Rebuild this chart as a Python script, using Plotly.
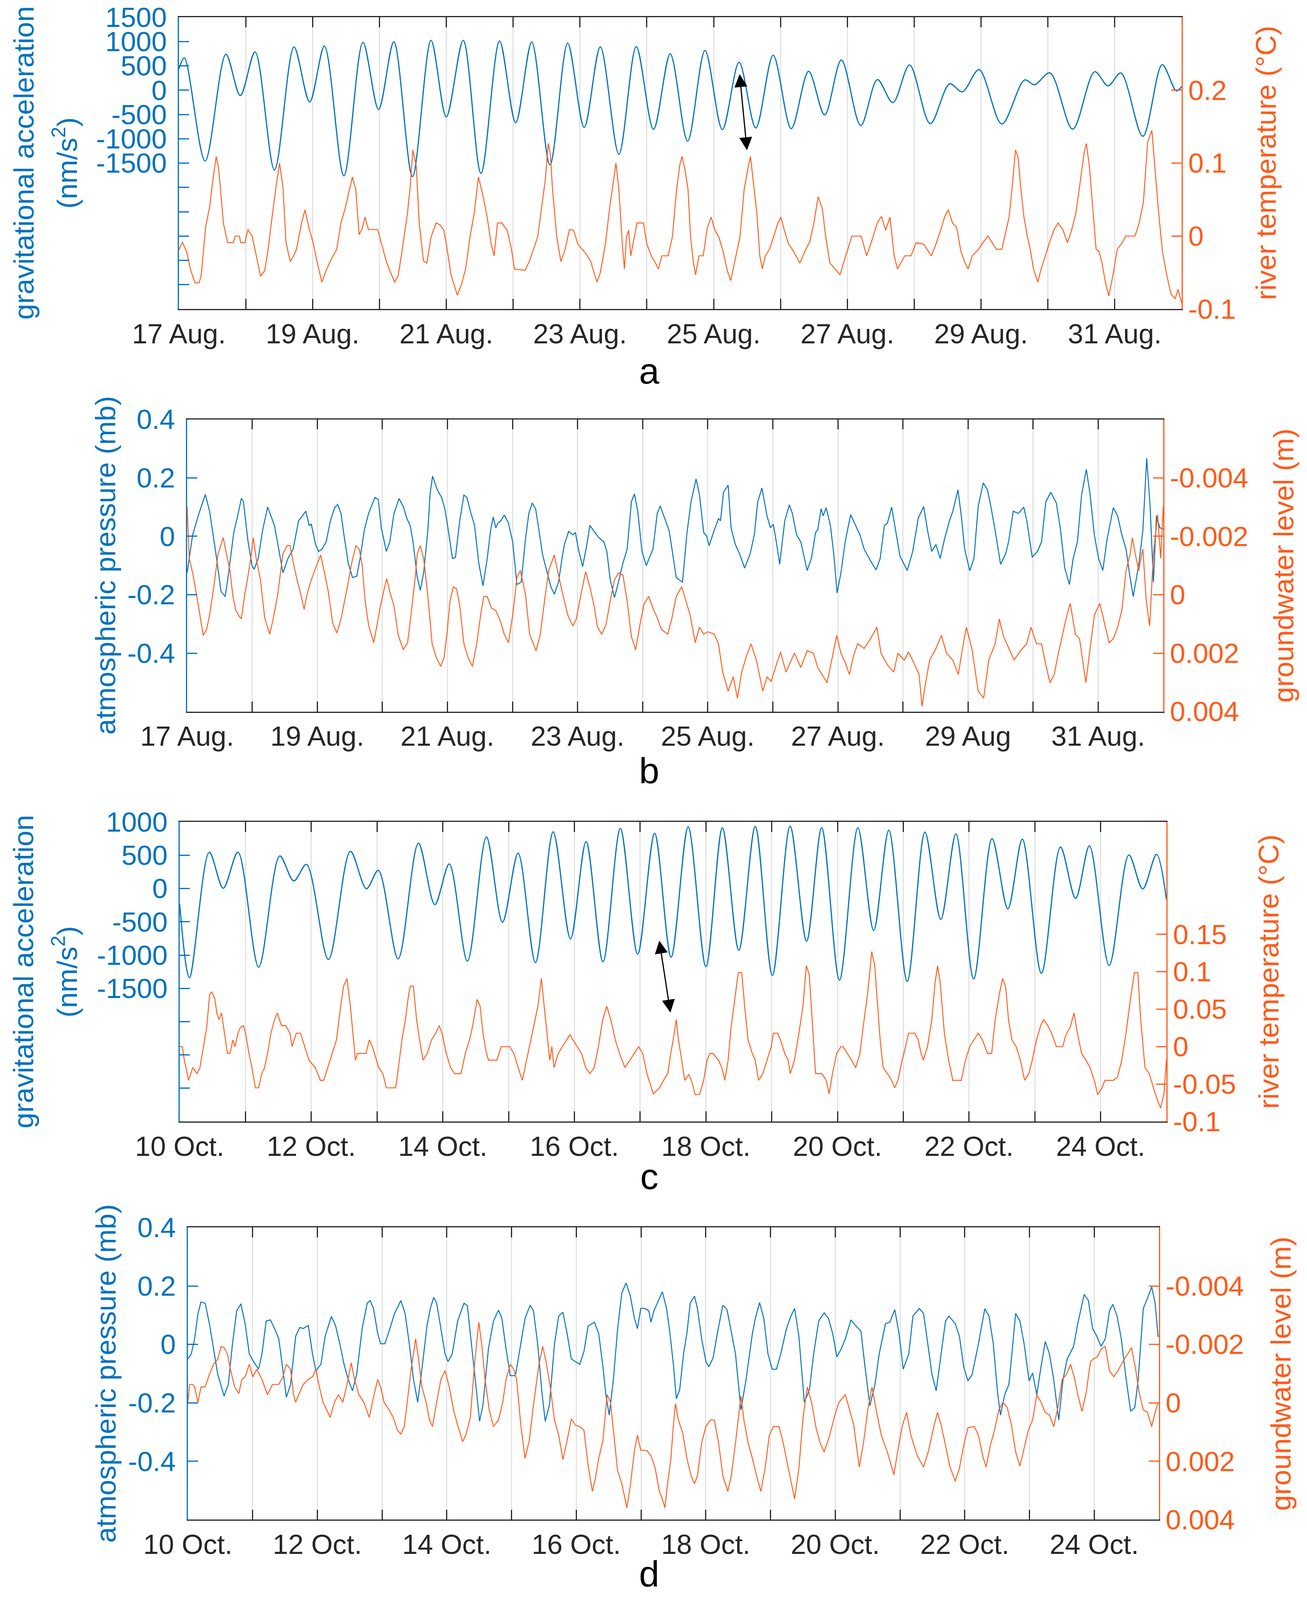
import plotly.graph_objects as go

# ---- data (day offset from start of window, value) ----
# panel a: 17 Aug - 1 Sep
A_GRAV = [(0.000, 437), (0.082, 665), (0.392, -1456), (0.703, 738), (0.918, -112), (1.139, 786),
          (1.430, -1641), (1.722, 888), (1.956, -243), (2.177, 908), (2.468, -1762), (2.753, 985),
          (2.987, -398), (3.215, 995), (3.494, -1777), (3.772, 1024), (4.000, -549), (4.253, 1024),
          (4.519, -1709), (4.797, 1010), (5.038, -670), (5.278, 990), (5.551, -1534), (5.816, 966),
          (6.063, -767), (6.304, 893), (6.582, -1316), (6.842, 898), (7.10, -806), (7.35, 748),
          (7.61, -1049), (7.87, 816), (8.13, -811), (8.38, 573), (8.63, -777), (8.89, 718),
          (9.16, -791), (9.42, 388), (9.66, -510), (9.91, 621), (10.20, -728), (10.45, 218),
          (10.68, -257), (10.93, 519), (11.24, -689), (11.53, 131), (11.72, -34), (11.97, 422),
          (12.31, -694), (12.65, 209), (12.80, 112), (13.03, 354), (13.37, -801), (13.70, 379),
          (13.90, 87), (14.09, 354), (14.42, -947), (14.71, 524), (14.92, -15), (15.0, 73)]

A_TEMP = [(0.000, -0.019), (0.051, -0.008), (0.114, -0.021), (0.177, -0.047), (0.241, -0.064),
          (0.304, -0.064), (0.335, -0.053), (0.399, 0.012), (0.462, 0.041), (0.494, 0.067),
          (0.557, 0.109), (0.589, 0.096), (0.620, 0.067), (0.665, 0.018), (0.728, -0.009),
          (0.810, -0.009), (0.842, 0.000), (0.905, 0.000), (0.924, -0.009), (0.987, -0.009),
          (1.032, 0.009), (1.095, 0.000), (1.158, -0.027), (1.222, -0.055), (1.285, -0.047),
          (1.335, -0.018), (1.392, 0.025), (1.456, 0.070), (1.506, 0.100), (1.557, 0.067),
          (1.601, -0.008), (1.665, -0.035), (1.715, -0.027), (1.759, -0.018), (1.835, 0.018),
          (1.886, 0.036), (1.949, 0.010), (2.013, -0.011), (2.063, -0.034), (2.139, -0.063),
          (2.203, -0.047), (2.266, -0.034), (2.361, -0.018), (2.424, 0.018), (2.487, 0.038),
          (2.551, 0.064), (2.595, 0.081), (2.646, 0.064), (2.696, 0.002), (2.741, 0.010),
          (2.785, 0.026), (2.835, 0.009), (2.975, 0.009), (3.025, -0.009), (3.101, -0.034),
          (3.152, -0.047), (3.228, -0.063), (3.278, -0.055), (3.342, -0.018), (3.418, 0.031),
          (3.456, 0.064), (3.500, 0.118), (3.551, 0.096), (3.595, 0.018), (3.658, -0.034),
          (3.709, -0.037), (3.772, -0.001), (3.848, 0.018), (3.911, 0.015), (3.962, 0.008),
          (4.006, -0.014), (4.070, -0.053), (4.165, -0.081), (4.228, -0.066), (4.291, -0.044),
          (4.354, -0.001), (4.418, 0.031), (4.481, 0.081), (4.544, 0.057), (4.608, 0.028),
          (4.671, -0.011), (4.715, -0.027), (4.766, 0.018), (4.829, 0.018), (4.911, 0.008),
          (4.975, -0.018), (5.019, -0.045), (5.177, -0.047), (5.241, -0.035), (5.367, -0.001),
          (5.430, 0.041), (5.481, 0.077), (5.525, 0.127), (5.557, 0.112), (5.589, 0.064),
          (5.652, -0.001), (5.715, -0.035), (5.778, -0.018), (5.842, 0.009), (5.905, 0.008),
          (5.968, -0.011), (6.063, -0.021), (6.158, -0.034), (6.253, -0.063), (6.304, -0.050),
          (6.380, -0.011), (6.443, 0.038), (6.506, 0.080), (6.538, 0.100), (6.582, 0.064),
          (6.633, -0.011), (6.665, -0.045), (6.696, -0.001), (6.728, 0.008), (6.759, -0.027),
          (6.854, 0.018), (6.949, 0.018), (7.000, -0.011), (7.066, -0.027), (7.129, -0.037),
          (7.173, -0.045), (7.224, -0.027), (7.319, -0.027), (7.382, -0.001), (7.445, 0.064),
          (7.496, 0.099), (7.527, 0.109), (7.571, 0.091), (7.616, 0.064), (7.654, -0.001),
          (7.698, -0.037), (7.729, -0.053), (7.780, -0.027), (7.843, -0.027), (7.906, 0.012),
          (7.963, 0.026), (8.014, 0.009), (8.077, -0.001), (8.140, -0.021), (8.203, -0.047),
          (8.254, -0.061), (8.311, -0.037), (8.393, -0.001), (8.456, 0.064), (8.519, 0.096),
          (8.551, 0.109), (8.595, 0.073), (8.646, 0.031), (8.690, -0.027), (8.728, -0.045),
          (8.772, -0.027), (8.835, -0.018), (8.899, 0.000), (8.962, 0.018), (9.006, 0.026),
          (9.057, 0.008), (9.120, -0.011), (9.196, -0.021), (9.290, -0.037), (9.373, -0.019),
          (9.436, -0.008), (9.499, 0.018), (9.562, 0.054), (9.625, 0.038), (9.676, -0.001),
          (9.739, -0.037), (9.815, -0.045), (9.891, -0.053), (9.941, -0.037), (10.004, -0.018),
          (10.068, 0.000), (10.207, 0.000), (10.289, -0.027), (10.384, -0.001), (10.447, 0.018),
          (10.510, 0.027), (10.573, 0.008), (10.637, 0.026), (10.700, -0.027), (10.750, -0.045),
          (10.858, -0.027), (10.953, -0.027), (11.029, -0.009), (11.142, -0.011), (11.256, -0.027),
          (11.332, -0.009), (11.395, 0.008), (11.458, 0.027), (11.509, 0.036), (11.572, 0.018),
          (11.635, 0.012), (11.698, -0.021), (11.762, -0.037), (11.806, -0.045), (11.869, -0.027),
          (11.964, -0.018), (12.027, -0.009), (12.103, 0.000), (12.166, -0.009), (12.229, -0.018),
          (12.311, -0.018), (12.375, 0.008), (12.419, 0.026), (12.469, 0.070), (12.514, 0.118),
          (12.552, 0.109), (12.596, 0.064), (12.640, 0.027), (12.691, 0.000), (12.735, -0.018),
          (12.785, -0.045), (12.849, -0.063), (12.899, -0.045), (12.962, -0.027), (13.026, -0.008),
          (13.089, 0.008), (13.152, 0.018), (13.228, 0.008), (13.291, -0.009), (13.354, 0.008),
          (13.417, 0.031), (13.481, 0.073), (13.544, 0.116), (13.575, 0.127), (13.620, 0.096),
          (13.671, 0.038), (13.721, -0.018), (13.765, -0.021), (13.809, -0.037), (13.860, -0.063),
          (13.910, -0.082), (13.974, -0.053), (14.037, -0.018), (14.113, -0.009), (14.163, 0.000),
          (14.302, 0.000), (14.366, 0.018), (14.429, 0.047), (14.492, 0.129), (14.555, 0.145),
          (14.606, 0.090), (14.650, 0.038), (14.713, -0.021), (14.777, -0.053), (14.840, -0.079),
          (14.903, -0.086), (14.947, -0.073), (15.0, -0.092)]

# panel b: 17 Aug - 1 Sep
B_PRES = [(0.000, -0.125), (0.085, 0.005), (0.182, 0.078), (0.280, 0.143), (0.345, 0.086),
          (0.443, -0.060), (0.521, -0.189), (0.586, -0.206), (0.638, -0.125), (0.717, 0.013),
          (0.769, 0.062), (0.834, 0.130), (0.866, 0.118), (0.932, -0.011), (0.997, -0.100),
          (1.029, -0.113), (1.094, -0.076), (1.160, 0.021), (1.238, 0.100), (1.342, 0.037),
          (1.388, -0.019), (1.472, -0.125), (1.550, -0.076), (1.629, -0.044), (1.713, 0.053),
          (1.759, 0.066), (1.824, 0.086), (1.876, 0.037), (1.909, 0.041), (1.974, -0.028),
          (2.020, -0.052), (2.072, -0.044), (2.137, -0.019), (2.202, 0.053), (2.267, 0.098),
          (2.313, 0.109), (2.365, 0.078), (2.410, 0.005), (2.476, -0.092), (2.541, -0.141),
          (2.606, -0.137), (2.658, -0.076), (2.723, 0.021), (2.788, 0.078), (2.886, 0.133),
          (2.938, 0.126), (2.984, 0.029), (3.062, -0.052), (3.114, -0.019), (3.179, 0.078),
          (3.257, 0.129), (3.322, 0.102), (3.375, 0.062), (3.427, 0.037), (3.472, -0.019),
          (3.537, -0.141), (3.583, -0.185), (3.635, -0.125), (3.700, 0.021), (3.733, 0.143),
          (3.772, 0.206), (3.844, 0.159), (3.909, 0.134), (3.961, 0.094), (4.013, 0.021),
          (4.078, -0.076), (4.124, -0.072), (4.189, 0.053), (4.254, 0.141), (4.300, 0.133),
          (4.352, 0.086), (4.417, 0.037), (4.482, -0.092), (4.547, -0.169), (4.612, -0.076),
          (4.664, 0.021), (4.704, 0.066), (4.743, 0.029), (4.775, 0.045), (4.821, 0.053),
          (4.873, 0.073), (4.938, 0.045), (5.003, -0.019), (5.068, -0.165), (5.134, -0.157),
          (5.199, -0.011), (5.251, 0.078), (5.303, 0.114), (5.355, 0.094), (5.407, 0.021),
          (5.459, -0.060), (5.524, -0.117), (5.590, -0.173), (5.642, -0.198), (5.707, -0.157),
          (5.772, -0.060), (5.798, -0.028), (5.863, 0.017), (5.928, 0.005), (5.967, 0.013),
          (6.013, -0.044), (6.078, -0.104), (6.143, -0.028), (6.189, 0.037), (6.254, 0.017),
          (6.319, -0.003), (6.404, -0.019), (6.450, -0.052), (6.502, -0.149), (6.567, -0.210),
          (6.619, -0.165), (6.697, -0.092), (6.762, -0.044), (6.827, 0.118), (6.873, 0.145),
          (6.925, 0.086), (6.990, -0.052), (7.055, -0.100), (7.159, -0.044), (7.224, 0.078),
          (7.269, 0.104), (7.354, 0.053), (7.405, 0.021), (7.451, -0.044), (7.516, -0.141),
          (7.561, -0.149), (7.613, -0.157), (7.678, 0.005), (7.743, 0.118), (7.821, 0.196),
          (7.873, 0.143), (7.938, 0.013), (7.983, 0.001), (8.022, -0.032), (8.100, 0.021),
          (8.165, 0.060), (8.197, 0.053), (8.243, 0.151), (8.314, 0.175), (8.359, 0.029),
          (8.424, -0.028), (8.489, -0.060), (8.567, -0.109), (8.652, -0.060), (8.716, 0.005),
          (8.768, 0.118), (8.833, 0.165), (8.911, 0.070), (8.963, 0.029), (9.008, 0.041),
          (9.054, -0.019), (9.106, -0.096), (9.184, 0.053), (9.255, 0.108), (9.301, 0.078),
          (9.365, 0.005), (9.430, -0.019), (9.528, -0.117), (9.593, -0.076), (9.657, 0.013),
          (9.690, 0.021), (9.742, 0.094), (9.774, 0.070), (9.820, 0.098), (9.885, 0.037),
          (9.937, -0.060), (9.988, -0.194), (10.047, -0.125), (10.112, -0.019), (10.196, 0.074),
          (10.274, 0.037), (10.339, 0.005), (10.404, -0.044), (10.501, -0.084), (10.586, -0.115),
          (10.650, -0.076), (10.715, 0.037), (10.761, 0.045), (10.826, 0.100), (10.891, 0.013),
          (10.955, -0.068), (11.066, -0.117), (11.150, -0.052), (11.235, 0.062), (11.319, 0.102),
          (11.377, 0.021), (11.442, -0.052), (11.507, -0.028), (11.572, -0.076), (11.637, -0.011),
          (11.715, 0.053), (11.767, 0.086), (11.845, 0.159), (11.897, 0.070), (11.948, -0.044),
          (12.027, -0.118), (12.091, -0.076), (12.156, 0.102), (12.234, 0.183), (12.299, 0.159),
          (12.351, 0.102), (12.416, 0.021), (12.500, -0.096), (12.578, -0.060), (12.623, -0.019),
          (12.695, 0.086), (12.773, 0.078), (12.857, 0.100), (12.903, 0.053), (12.987, -0.072),
          (13.065, -0.052), (13.130, -0.019), (13.195, 0.118), (13.272, 0.151), (13.357, 0.114),
          (13.422, 0.021), (13.487, -0.109), (13.558, -0.165), (13.616, -0.076), (13.681, -0.019),
          (13.746, 0.143), (13.818, 0.229), (13.876, 0.143), (13.941, 0.005), (14.006, -0.076),
          (14.071, -0.117), (14.136, -0.011), (14.233, 0.098), (14.298, 0.070), (14.363, 0.005),
          (14.428, -0.044), (14.479, -0.125), (14.538, -0.206), (14.590, -0.141), (14.636, -0.076),
          (14.687, 0.021), (14.746, 0.267), (14.798, 0.102), (14.849, -0.157), (14.895, 0.070),
          (14.947, 0.029), (15.0, 0.025)]

B_GWL = [(0.000, -0.00302), (0.033, -0.00124), (0.085, -0.00075), (0.150, 0.00006), (0.215, 0.00095),
         (0.248, 0.00139), (0.300, 0.00119), (0.345, 0.00070), (0.410, -0.00027), (0.476, -0.00140),
         (0.554, -0.00195), (0.606, -0.00140), (0.658, -0.00083), (0.704, 0.00006), (0.749, 0.00054),
         (0.801, 0.00074), (0.834, 0.00083), (0.886, -0.00002), (0.932, -0.00059), (0.977, -0.00124),
         (1.016, -0.00195), (1.062, -0.00124), (1.127, -0.00051), (1.192, 0.00079), (1.270, 0.00135),
         (1.322, 0.00083), (1.388, 0.00006), (1.472, -0.00140), (1.537, -0.00168), (1.583, -0.00168),
         (1.629, -0.00112), (1.681, -0.00059), (1.746, -0.00002), (1.798, 0.00050), (1.844, -0.00002),
         (1.896, -0.00043), (1.974, -0.00091), (2.052, -0.00136), (2.104, -0.00083), (2.169, -0.00011),
         (2.235, 0.00095), (2.300, 0.00131), (2.365, 0.00083), (2.463, -0.00027), (2.528, -0.00108),
         (2.593, -0.00168), (2.645, -0.00156), (2.691, -0.00100), (2.736, 0.00022), (2.788, 0.00103),
         (2.866, 0.00164), (2.919, 0.00103), (2.971, 0.00038), (3.036, -0.00027), (3.068, -0.00055),
         (3.114, -0.00011), (3.179, 0.00038), (3.244, 0.00139), (3.322, 0.00188), (3.388, 0.00164),
         (3.440, 0.00070), (3.505, -0.00059), (3.537, -0.00140), (3.583, -0.00168), (3.635, -0.00124),
         (3.700, 0.00006), (3.765, 0.00168), (3.831, 0.00216), (3.896, 0.00245), (3.948, 0.00216),
         (3.993, 0.00135), (4.039, 0.00022), (4.091, -0.00027), (4.143, -0.00019), (4.189, 0.00038),
         (4.254, 0.00168), (4.319, 0.00216), (4.384, 0.00245), (4.450, 0.00168), (4.515, 0.00062),
         (4.560, 0.00006), (4.612, 0.00006), (4.678, 0.00046), (4.743, 0.00054), (4.808, 0.00087),
         (4.873, 0.00135), (4.938, 0.00164), (5.003, 0.00070), (5.068, -0.00059), (5.121, -0.00083),
         (5.199, -0.00002), (5.264, 0.00135), (5.362, 0.00192), (5.427, 0.00135), (5.492, 0.00022),
         (5.557, -0.00083), (5.642, -0.00136), (5.707, -0.00067), (5.772, -0.00002), (5.850, 0.00070),
         (5.928, 0.00107), (5.980, 0.00083), (6.046, 0.00006), (6.124, -0.00079), (6.189, -0.00027),
         (6.254, 0.00038), (6.306, 0.00111), (6.371, 0.00135), (6.436, 0.00103), (6.502, 0.00022),
         (6.567, -0.00051), (6.632, -0.00075), (6.697, -0.00067), (6.762, 0.00022), (6.827, 0.00143),
         (6.893, 0.00188), (6.958, 0.00103), (7.023, 0.00030), (7.094, 0.00006), (7.159, 0.00046),
         (7.224, 0.00079), (7.289, 0.00119), (7.386, 0.00135), (7.451, 0.00079), (7.516, 0.00006),
         (7.600, -0.00027), (7.665, 0.00022), (7.730, 0.00070), (7.808, 0.00164), (7.873, 0.00111),
         (7.938, 0.00135), (8.003, 0.00127), (8.100, 0.00135), (8.165, 0.00168), (8.230, 0.00265),
         (8.314, 0.00330), (8.392, 0.00281), (8.457, 0.00354), (8.522, 0.00265), (8.587, 0.00216),
         (8.664, 0.00168), (8.749, 0.00224), (8.846, 0.00330), (8.911, 0.00281), (8.976, 0.00297),
         (9.041, 0.00249), (9.119, 0.00196), (9.203, 0.00265), (9.268, 0.00232), (9.333, 0.00200),
         (9.430, 0.00249), (9.528, 0.00192), (9.625, 0.00200), (9.690, 0.00249), (9.755, 0.00273),
         (9.833, 0.00301), (9.898, 0.00232), (9.982, 0.00139), (10.047, 0.00200), (10.112, 0.00232),
         (10.177, 0.00273), (10.242, 0.00208), (10.306, 0.00168), (10.404, 0.00184), (10.501, 0.00151),
         (10.599, 0.00111), (10.663, 0.00200), (10.761, 0.00240), (10.858, 0.00265), (10.923, 0.00200),
         (11.020, 0.00224), (11.085, 0.00196), (11.183, 0.00240), (11.248, 0.00273), (11.293, 0.00382),
         (11.345, 0.00305), (11.410, 0.00224), (11.507, 0.00184), (11.591, 0.00139), (11.669, 0.00200),
         (11.767, 0.00224), (11.851, 0.00273), (11.909, 0.00192), (11.974, 0.00111), (12.059, 0.00184),
         (12.156, 0.00330), (12.240, 0.00354), (12.318, 0.00224), (12.416, 0.00168), (12.481, 0.00083),
         (12.546, 0.00143), (12.643, 0.00192), (12.708, 0.00224), (12.805, 0.00192), (12.902, 0.00168),
         (12.967, 0.00111), (13.052, 0.00168), (13.130, 0.00168), (13.195, 0.00240), (13.259, 0.00301),
         (13.324, 0.00273), (13.389, 0.00200), (13.454, 0.00135), (13.519, 0.00070), (13.571, 0.00030),
         (13.649, 0.00135), (13.714, 0.00151), (13.811, 0.00301), (13.876, 0.00184), (13.941, 0.00070),
         (14.025, 0.00030), (14.103, 0.00103), (14.168, 0.00164), (14.233, 0.00151), (14.298, 0.00111),
         (14.363, 0.00054), (14.428, -0.00083), (14.493, -0.00140), (14.525, -0.00195), (14.570, -0.00140),
         (14.622, -0.00083), (14.687, -0.00156), (14.739, 0.00022), (14.791, 0.00107), (14.849, -0.00140),
         (14.914, -0.00274), (14.960, -0.00124), (15.0, -0.00302)]

# panel c: 10 Oct - 25 Oct
C_GRAV = [(0.000, -234), (0.148, -1340), (0.450, 546), (0.662, 4), (0.886, 546), (1.201, -1181),
          (1.522, 489), (1.734, 113), (1.927, 362), (2.261, -1067), (2.595, 560), (2.839, -4),
          (3.019, 273), (3.321, -1057), (3.629, 681), (3.879, -241), (4.098, 369), (4.374, -1092),
          (4.663, 777), (4.907, -507), (5.145, 532), (5.408, -1113), (5.678, 851), (5.941, -759),
          (6.178, 706), (6.435, -1099), (6.699, 901), (6.962, -986), (7.22, 830), (7.47, -1032),
          (7.73, 925), (8.00, -1174), (8.25, 911), (8.50, -929), (8.75, 933), (9.01, -1305),
          (9.28, 936), (9.53, -791), (9.76, 911), (10.03, -1376), (10.31, 911), (10.55, -631),
          (10.78, 876), (11.06, -1394), (11.33, 847), (11.57, -465), (11.80, 819), (12.07, -1358),
          (12.35, 748), (12.59, -305), (12.81, 741), (13.10, -1273), (13.39, 624), (13.62, -149),
          (13.83, 642), (14.13, -1156), (14.43, 504), (14.64, -7), (14.85, 514), (15.0, -163)]

C_TEMP = [(0.000, 0.000), (0.039, 0.000), (0.071, -0.018), (0.135, -0.045), (0.199, -0.028),
          (0.263, -0.036), (0.308, -0.028), (0.360, 0.000), (0.411, 0.026), (0.456, 0.070),
          (0.488, 0.073), (0.533, 0.064), (0.565, 0.045), (0.597, 0.036), (0.636, 0.045),
          (0.681, 0.018), (0.726, -0.009), (0.764, -0.009), (0.809, 0.009), (0.841, 0.000),
          (0.886, 0.018), (0.925, 0.026), (0.970, 0.028), (1.002, 0.018), (1.053, -0.009),
          (1.098, -0.028), (1.150, -0.055), (1.201, -0.055), (1.246, -0.036), (1.291, -0.028),
          (1.336, -0.009), (1.387, 0.018), (1.439, 0.035), (1.484, 0.045), (1.548, 0.028),
          (1.612, 0.028), (1.676, 0.018), (1.708, 0.000), (1.773, 0.018), (1.837, 0.018),
          (1.901, 0.000), (1.965, -0.018), (2.062, -0.028), (2.139, -0.045), (2.190, -0.045),
          (2.222, -0.036), (2.286, -0.018), (2.383, 0.009), (2.447, 0.054), (2.492, 0.081),
          (2.543, 0.091), (2.595, 0.054), (2.633, 0.018), (2.672, -0.018), (2.704, -0.009),
          (2.832, -0.009), (2.884, 0.009), (2.929, 0.000), (2.961, -0.009), (3.025, -0.028),
          (3.089, -0.036), (3.141, -0.055), (3.282, -0.055), (3.314, -0.036), (3.378, 0.009),
          (3.430, 0.035), (3.481, 0.070), (3.507, 0.081), (3.552, 0.081), (3.603, 0.035),
          (3.648, 0.009), (3.699, -0.018), (3.764, -0.009), (3.828, 0.009), (3.892, 0.018),
          (3.944, 0.028), (3.988, 0.018), (4.053, -0.009), (4.117, -0.028), (4.181, -0.036),
          (4.277, -0.036), (4.342, -0.009), (4.406, 0.009), (4.457, 0.029), (4.522, 0.063),
          (4.567, 0.054), (4.611, 0.018), (4.663, -0.009), (4.695, -0.018), (4.823, -0.018),
          (4.887, 0.000), (5.016, 0.000), (5.080, -0.009), (5.145, -0.028), (5.209, -0.045),
          (5.273, -0.018), (5.337, 0.009), (5.401, 0.035), (5.446, 0.054), (5.498, 0.091),
          (5.543, 0.054), (5.594, 0.009), (5.626, -0.018), (5.658, 0.000), (5.690, -0.028),
          (5.755, -0.009), (5.819, 0.000), (5.883, 0.009), (5.934, 0.016), (5.979, 0.009),
          (6.044, 0.000), (6.108, -0.009), (6.172, -0.028), (6.236, -0.036), (6.301, -0.028),
          (6.365, 0.000), (6.429, 0.035), (6.493, 0.054), (6.557, 0.035), (6.622, 0.009),
          (6.686, -0.009), (6.769, -0.028), (6.846, -0.018), (6.910, -0.009), (6.975, 0.000),
          (7.039, -0.009), (7.103, -0.036), (7.200, -0.063), (7.296, -0.055), (7.356, -0.045),
          (7.420, -0.036), (7.465, -0.009), (7.504, 0.010), (7.549, 0.036), (7.581, 0.010),
          (7.632, -0.018), (7.677, -0.045), (7.741, -0.037), (7.786, -0.047), (7.837, -0.064),
          (7.902, -0.064), (7.966, -0.045), (8.017, -0.018), (8.062, -0.009), (8.107, -0.009),
          (8.191, -0.018), (8.242, -0.028), (8.287, -0.045), (8.338, -0.018), (8.383, 0.026),
          (8.447, 0.070), (8.492, 0.099), (8.544, 0.099), (8.589, 0.054), (8.640, 0.009),
          (8.704, -0.009), (8.749, -0.018), (8.800, -0.045), (8.865, -0.036), (8.929, -0.018),
          (8.993, 0.000), (9.025, 0.018), (9.089, 0.018), (9.134, 0.009), (9.198, -0.009),
          (9.250, -0.018), (9.282, -0.036), (9.346, -0.018), (9.410, 0.016), (9.475, 0.054),
          (9.526, 0.108), (9.571, 0.096), (9.622, 0.028), (9.667, -0.036), (9.763, -0.036),
          (9.828, -0.045), (9.873, -0.063), (9.924, -0.036), (9.988, -0.009), (10.052, 0.000),
          (10.084, 0.000), (10.149, -0.009), (10.213, -0.018), (10.277, -0.028), (10.341, -0.009),
          (10.393, 0.028), (10.457, 0.070), (10.521, 0.127), (10.566, 0.108), (10.611, 0.054),
          (10.649, 0.009), (10.694, -0.028), (10.759, -0.036), (10.823, -0.045), (10.868, -0.055),
          (10.919, -0.045), (10.983, -0.018), (11.035, 0.000), (11.080, 0.018), (11.176, 0.018),
          (11.227, 0.009), (11.272, -0.009), (11.304, -0.018), (11.368, 0.000), (11.433, 0.035),
          (11.484, 0.086), (11.522, 0.108), (11.561, 0.086), (11.625, 0.018), (11.689, -0.018),
          (11.754, -0.045), (11.882, -0.045), (11.946, -0.018), (12.010, 0.000), (12.075, 0.009),
          (12.139, 0.018), (12.203, 0.009), (12.280, -0.009), (12.344, -0.009), (12.396, 0.035),
          (12.460, 0.070), (12.511, 0.091), (12.556, 0.080), (12.601, 0.035), (12.652, 0.009),
          (12.717, 0.000), (12.781, -0.018), (12.845, -0.045), (12.909, -0.036), (12.961, -0.018),
          (13.025, 0.009), (13.089, 0.028), (13.134, 0.036), (13.198, 0.028), (13.263, 0.016),
          (13.327, 0.000), (13.423, 0.000), (13.474, 0.016), (13.538, 0.026), (13.596, 0.045),
          (13.647, 0.018), (13.711, -0.009), (13.776, -0.018), (13.840, -0.028), (13.904, -0.045),
          (13.956, -0.064), (14.020, -0.055), (14.065, -0.045), (14.193, -0.045), (14.257, -0.041),
          (14.322, -0.018), (14.386, 0.018), (14.450, 0.061), (14.514, 0.099), (14.566, 0.099),
          (14.610, 0.035), (14.675, -0.028), (14.739, -0.036), (14.803, -0.055), (14.867, -0.072),
          (14.912, -0.082), (14.963, -0.063), (15.0, -0.018)]

# panel d: 10 Oct - 25 Oct
D_PRES = [(0.000, -0.050), (0.052, -0.033), (0.104, 0.019), (0.156, 0.106), (0.202, 0.145),
          (0.267, 0.141), (0.332, 0.071), (0.397, -0.016), (0.462, -0.103), (0.559, -0.177),
          (0.624, -0.137), (0.689, 0.002), (0.754, 0.115), (0.819, 0.139), (0.884, 0.071),
          (0.949, -0.033), (1.014, -0.059), (1.092, -0.085), (1.144, -0.033), (1.209, 0.080),
          (1.274, 0.084), (1.339, 0.054), (1.404, 0.019), (1.456, -0.068), (1.521, -0.181),
          (1.586, -0.137), (1.665, 0.028), (1.730, 0.058), (1.782, 0.054), (1.860, 0.065),
          (1.925, -0.033), (1.977, -0.090), (2.055, -0.068), (2.120, 0.028), (2.217, 0.096),
          (2.282, 0.063), (2.347, 0.002), (2.412, -0.068), (2.477, -0.120), (2.542, -0.159),
          (2.607, -0.103), (2.692, 0.054), (2.770, 0.141), (2.815, 0.150), (2.867, 0.123),
          (2.932, 0.037), (2.978, 0.002), (3.043, 0.002), (3.108, 0.045), (3.192, 0.106),
          (3.290, 0.150), (3.355, 0.106), (3.420, 0.002), (3.485, -0.120), (3.550, -0.198),
          (3.615, -0.085), (3.693, 0.063), (3.745, 0.123), (3.797, 0.161), (3.843, 0.141),
          (3.908, 0.054), (3.973, -0.033), (4.018, -0.059), (4.083, -0.033), (4.167, 0.080),
          (4.265, 0.141), (4.317, 0.132), (4.382, 0.002), (4.447, -0.137), (4.506, -0.263),
          (4.558, -0.207), (4.642, -0.016), (4.720, 0.080), (4.798, 0.117), (4.850, 0.089),
          (4.915, -0.016), (4.980, -0.107), (5.059, -0.107), (5.143, 0.002), (5.208, 0.089),
          (5.286, 0.134), (5.338, 0.115), (5.403, 0.002), (5.468, -0.163), (5.520, -0.263),
          (5.585, -0.207), (5.663, 0.002), (5.728, 0.097), (5.793, 0.110), (5.858, 0.037),
          (5.923, -0.050), (5.988, -0.059), (6.053, -0.068), (6.118, -0.024), (6.183, 0.063),
          (6.281, 0.076), (6.346, 0.037), (6.411, -0.077), (6.456, -0.172), (6.508, -0.242),
          (6.573, -0.120), (6.638, 0.054), (6.703, 0.176), (6.768, 0.210), (6.833, 0.167),
          (6.898, 0.089), (6.944, 0.054), (6.996, 0.123), (7.055, 0.123), (7.120, 0.115),
          (7.153, 0.076), (7.199, 0.115), (7.251, 0.141), (7.329, 0.180), (7.394, 0.123),
          (7.447, 0.037), (7.499, -0.068), (7.545, -0.186), (7.597, -0.155), (7.656, -0.033),
          (7.708, 0.037), (7.760, 0.141), (7.825, 0.165), (7.871, 0.123), (7.936, 0.019),
          (8.002, -0.059), (8.047, -0.077), (8.113, -0.046), (8.178, 0.037), (8.263, 0.134),
          (8.328, 0.119), (8.393, 0.045), (8.459, -0.033), (8.543, -0.224), (8.622, -0.120),
          (8.720, 0.037), (8.765, 0.089), (8.831, 0.143), (8.896, 0.089), (8.961, -0.033),
          (9.026, -0.085), (9.092, -0.085), (9.157, -0.033), (9.242, 0.050), (9.307, 0.093),
          (9.372, 0.123), (9.438, 0.028), (9.522, -0.198), (9.601, -0.155), (9.666, -0.033),
          (9.744, 0.080), (9.829, 0.108), (9.895, 0.089), (9.960, 0.037), (10.025, -0.043),
          (10.091, -0.016), (10.156, 0.019), (10.241, 0.084), (10.319, 0.063), (10.397, 0.045),
          (10.450, -0.059), (10.534, -0.210), (10.613, -0.137), (10.678, -0.033), (10.776, 0.071),
          (10.841, 0.076), (10.920, 0.119), (10.985, 0.037), (11.050, -0.085), (11.135, -0.033),
          (11.200, 0.097), (11.298, 0.123), (11.363, 0.106), (11.429, 0.002), (11.494, -0.103),
          (11.559, -0.159), (11.625, -0.050), (11.703, 0.080), (11.755, 0.097), (11.853, 0.071),
          (11.918, 0.028), (11.984, -0.077), (12.049, -0.125), (12.114, -0.103), (12.212, 0.002),
          (12.310, 0.122), (12.375, 0.097), (12.441, 0.002), (12.506, -0.163), (12.552, -0.242),
          (12.617, -0.172), (12.682, -0.137), (12.735, -0.016), (12.786, 0.106), (12.852, 0.080),
          (12.917, 0.002), (12.995, -0.125), (13.048, -0.098), (13.113, -0.172), (13.178, -0.077),
          (13.244, 0.010), (13.309, -0.033), (13.374, -0.120), (13.452, -0.259), (13.518, -0.120),
          (13.583, -0.050), (13.681, -0.007), (13.746, 0.071), (13.844, 0.171), (13.910, 0.150),
          (13.975, 0.054), (14.040, 0.028), (14.105, -0.007), (14.171, 0.019), (14.236, 0.115),
          (14.288, 0.137), (14.353, 0.097), (14.418, 0.019), (14.484, -0.103), (14.562, -0.229),
          (14.627, -0.216), (14.679, -0.120), (14.758, 0.123), (14.823, 0.158), (14.888, 0.197),
          (14.941, 0.141), (14.986, 0.028), (15.0, 0.028)]

D_GWL = [(0.000, -0.00002), (0.026, -0.00063), (0.072, -0.00063), (0.104, -0.00054), (0.156, -0.00002),
         (0.202, -0.00054), (0.267, -0.00054), (0.332, -0.00097), (0.397, -0.00132), (0.462, -0.00150),
         (0.514, -0.00193), (0.559, -0.00189), (0.611, -0.00167), (0.657, -0.00115), (0.722, -0.00054),
         (0.787, -0.00032), (0.832, -0.00080), (0.884, -0.00089), (0.949, -0.00132), (1.001, -0.00089),
         (1.066, -0.00115), (1.144, -0.00080), (1.229, -0.00028), (1.307, -0.00063), (1.404, -0.00063),
         (1.469, -0.00089), (1.521, -0.00132), (1.586, -0.00115), (1.632, -0.00028), (1.665, -0.00002),
         (1.730, -0.00037), (1.782, -0.00063), (1.860, -0.00080), (1.925, -0.00089), (1.977, -0.00115),
         (2.022, -0.00063), (2.087, -0.00002), (2.152, 0.00029), (2.198, 0.00050), (2.263, -0.00002),
         (2.328, -0.00028), (2.393, -0.00002), (2.458, -0.00063), (2.523, -0.00137), (2.575, -0.00080),
         (2.640, -0.00028), (2.718, -0.00002), (2.802, 0.00050), (2.867, -0.00019), (2.932, -0.00080),
         (2.978, -0.00054), (3.030, -0.00002), (3.108, 0.00024), (3.173, 0.00050), (3.238, 0.00094),
         (3.290, 0.00107), (3.342, 0.00081), (3.388, -0.00002), (3.453, -0.00123), (3.518, -0.00219),
         (3.563, -0.00150), (3.615, -0.00054), (3.680, -0.00002), (3.732, 0.00059), (3.778, 0.00081),
         (3.843, -0.00002), (3.908, -0.00080), (3.973, -0.00110), (4.038, -0.00054), (4.103, 0.00024),
         (4.168, 0.00077), (4.246, 0.00133), (4.298, 0.00107), (4.363, 0.00050), (4.428, -0.00132),
         (4.493, -0.00276), (4.538, -0.00202), (4.590, -0.00080), (4.655, 0.00024), (4.720, 0.00081),
         (4.798, 0.00059), (4.863, -0.00002), (4.915, -0.00080), (4.980, -0.00132), (5.033, -0.00115),
         (5.078, -0.00080), (5.143, 0.00077), (5.208, 0.00190), (5.273, 0.00129), (5.338, 0.00007),
         (5.423, -0.00132), (5.481, -0.00193), (5.533, -0.00141), (5.598, -0.00054), (5.663, 0.00059),
         (5.728, 0.00111), (5.793, 0.00194), (5.858, 0.00129), (5.923, 0.00055), (5.988, 0.00077),
         (6.053, 0.00081), (6.118, 0.00094), (6.183, 0.00216), (6.248, 0.00303), (6.294, 0.00259),
         (6.346, 0.00190), (6.411, 0.00129), (6.476, -0.00028), (6.528, -0.00002), (6.573, 0.00094),
         (6.638, 0.00233), (6.703, 0.00277), (6.781, 0.00359), (6.833, 0.00285), (6.898, 0.00163),
         (6.944, 0.00111), (6.996, 0.00163), (7.088, 0.00163), (7.153, 0.00181), (7.218, 0.00224),
         (7.283, 0.00303), (7.329, 0.00329), (7.368, 0.00359), (7.414, 0.00268), (7.460, 0.00194),
         (7.499, 0.00077), (7.532, 0.00003), (7.577, 0.00059), (7.643, 0.00103), (7.708, 0.00190),
         (7.773, 0.00250), (7.825, 0.00277), (7.871, 0.00250), (7.936, 0.00137), (8.002, 0.00081),
         (8.067, 0.00059), (8.132, 0.00059), (8.198, 0.00137), (8.263, 0.00250), (8.341, 0.00303),
         (8.393, 0.00250), (8.459, 0.00137), (8.543, -0.00023), (8.589, 0.00059), (8.654, 0.00137),
         (8.720, 0.00190), (8.785, 0.00250), (8.850, 0.00303), (8.916, 0.00224), (8.981, 0.00111),
         (9.046, 0.00081), (9.131, 0.00081), (9.196, 0.00137), (9.274, 0.00224), (9.372, 0.00329),
         (9.438, 0.00224), (9.503, 0.00050), (9.568, -0.00054), (9.634, -0.00002), (9.699, 0.00081),
         (9.764, 0.00137), (9.829, 0.00168), (9.914, 0.00111), (9.993, 0.00042), (10.058, -0.00002),
         (10.156, -0.00028), (10.221, 0.00024), (10.286, 0.00077), (10.371, 0.00220), (10.436, 0.00137),
         (10.502, 0.00024), (10.567, -0.00054), (10.632, 0.00024), (10.711, 0.00111), (10.809, 0.00172),
         (10.906, 0.00246), (10.972, 0.00155), (11.037, 0.00077), (11.102, 0.00033), (11.168, 0.00111),
         (11.266, 0.00181), (11.363, 0.00220), (11.442, 0.00163), (11.527, 0.00077), (11.579, 0.00033),
         (11.637, 0.00077), (11.703, 0.00146), (11.768, 0.00216), (11.853, 0.00268), (11.918, 0.00224),
         (11.984, 0.00146), (12.049, 0.00085), (12.147, 0.00081), (12.212, 0.00111), (12.277, 0.00181),
         (12.330, 0.00220), (12.395, 0.00146), (12.460, 0.00094), (12.526, 0.00024), (12.591, -0.00002),
         (12.656, 0.00016), (12.722, 0.00077), (12.786, 0.00168), (12.852, 0.00216), (12.917, 0.00155),
         (12.982, 0.00094), (13.048, 0.00059), (13.113, -0.00028), (13.178, -0.00002), (13.244, 0.00033),
         (13.309, 0.00042), (13.374, 0.00081), (13.439, 0.00016), (13.505, -0.00080), (13.570, -0.00097),
         (13.635, -0.00132), (13.700, -0.00080), (13.746, -0.00028), (13.811, 0.00029), (13.877, -0.00037),
         (13.942, -0.00141), (13.988, -0.00150), (14.053, -0.00158), (14.105, -0.00184), (14.171, -0.00193),
         (14.236, -0.00110), (14.301, -0.00089), (14.366, -0.00110), (14.444, -0.00141), (14.516, -0.00167),
         (14.575, -0.00189), (14.640, -0.00115), (14.692, -0.00037), (14.758, 0.00024), (14.823, 0.00033),
         (14.888, 0.00081), (14.941, 0.00033), (14.986, -0.00002)]

AUG_TICKS = ['17 Aug.', '19 Aug.', '21 Aug.', '23 Aug.', '25 Aug.', '27 Aug.', '29 Aug.', '31 Aug.']
AUG_TICKS_B = ['17 Aug.', '19 Aug.', '21 Aug.', '23 Aug.', '25 Aug.', '27 Aug.', '29 Aug', '31 Aug.']
OCT_TICKS = ['10 Oct.', '12 Oct.', '14 Oct.', '16 Oct.', '18 Oct.', '20 Oct.', '22 Oct.', '24 Oct.']

GRAV_A_TICKS = [-4500, -4000, -3500, -3000, -2500, -2000, -1500, -1000, -500, 0, 500, 1000, 1500]
GRAV_C_TICKS = [-3500, -3000, -2500, -2000, -1500, -1000, -500, 0, 500, 1000]
TEMP_A_TICKS = [-0.1, 0, 0.1, 0.2]
TEMP_C_TICKS = [-0.1, -0.05, 0, 0.05, 0.1, 0.15]
PRES_TICKS = [-0.6, -0.4, -0.2, 0, 0.2, 0.4]
GWL_TICKS = [-0.006, -0.004, -0.002, 0, 0.002, 0.004]

# ---- styling ----
W, H = 3346, 4742          # reference canvas, layout is laid out in these pixels
BLUE = '#0072BD'
ORANGE = '#FF5A1A'
INK = '#262626'
FONT = 'Liberation Sans, Arial, Helvetica, sans-serif'
TICK_SIZE = 76
TITLE_SIZE = 84


def fmt(v):
    return '0' if v == 0 else ('%g' % v)


def px(x):
    return x / W


def py(y):
    return 1 - y / H


def unzip(pairs):
    return [p[0] for p in pairs], [p[1] for p in pairs]


fig = go.Figure()


def add_panel(k, box, xlabels, left, right, blue, orange, blue_spline, blue_width, mirror_blue):
    l, r, t, b = box
    xa = 'xaxis' if k == 1 else 'xaxis%d' % k
    xr = 'x' if k == 1 else 'x%d' % k
    nl, nr = 2 * k - 1, 2 * k
    ya_l = 'yaxis' if nl == 1 else 'yaxis%d' % nl
    yr_l = 'y' if nl == 1 else 'y%d' % nl
    ya_r, yr_r = 'yaxis%d' % nr, 'y%d' % nr

    tx, ty = unzip(blue)
    fig.add_trace(go.Scatter(x=tx, y=ty, mode='lines', xaxis=xr, yaxis=yr_l,
                             line=dict(color=BLUE, width=blue_width,
                                       shape='spline' if blue_spline else 'linear', smoothing=0.9),
                             hoverinfo='skip'))
    tx, ty = unzip(orange)
    fig.add_trace(go.Scatter(x=tx, y=ty, mode='lines', xaxis=xr, yaxis=yr_r,
                             line=dict(color=ORANGE, width=2.4), hoverinfo='skip'))

    xtext = []
    for d in range(16):
        xtext.append(xlabels[d // 2] if d % 2 == 0 and d < 15 else '')
    fig.layout[xa] = dict(domain=[px(l), px(r)], anchor=yr_l, range=[0, 15],
                          tickmode='array', tickvals=list(range(16)), ticktext=xtext,
                          ticks='inside', ticklen=26, tickwidth=2.5, tickcolor=INK,
                          showline=True, linecolor=INK, linewidth=2.5, mirror='ticks',
                          showgrid=True, gridcolor='#E2E2E2', gridwidth=2.5, zeroline=False,
                          tickfont=dict(size=TICK_SIZE, color=INK, family=FONT),
                          ticklabelstandoff=0, automargin=False)
    fig.layout[ya_l] = dict(domain=[py(b), py(t)], anchor=xr, range=left['range'],
                            tickmode='array', tickvals=left['vals'], ticktext=left['text'],
                            ticks='inside', ticklen=26, tickwidth=2.5, tickcolor=BLUE,
                            showline=True, linecolor=BLUE, linewidth=2.5,
                            showgrid=False, zeroline=False,
                            tickfont=dict(size=TICK_SIZE, color=BLUE, family=FONT),
                            ticklabelstandoff=14, automargin=False)
    fig.layout[ya_r] = dict(overlaying=yr_l, side='right', anchor=xr, range=right['range'],
                            tickmode='array', tickvals=right['vals'], ticktext=right['text'],
                            ticks='inside', ticklen=26, tickwidth=2.5, tickcolor=ORANGE,
                            showline=True, linecolor=ORANGE, linewidth=2.5,
                            showgrid=False, zeroline=False,
                            tickfont=dict(size=TICK_SIZE, color=ORANGE, family=FONT),
                            ticklabelstandoff=0, automargin=False)
    if mirror_blue:
        nm = 8 + (k + 1) // 2
        fig.layout['yaxis%d' % nm] = dict(overlaying=yr_l, side='right', anchor=xr,
                                          range=left['range'], tickmode='array',
                                          tickvals=left['vals'], showticklabels=False,
                                          ticks='inside', ticklen=26, tickwidth=2.5,
                                          tickcolor=BLUE, showline=False, showgrid=False,
                                          zeroline=False, automargin=False)


def left_cfg(rng, vals, min_label):
    return dict(range=rng, vals=vals, text=[fmt(v) if v >= min_label else '' for v in vals])


add_panel(1, (458, 3025, 51, 916), AUG_TICKS,
          left_cfg([-4500, 1500], GRAV_A_TICKS, -1500),
          dict(range=[-0.1, 0.3], vals=TEMP_A_TICKS, text=[fmt(v) for v in TEMP_A_TICKS]),
          A_GRAV, A_TEMP, True, 3, True)
add_panel(2, (479, 2978, 1243, 2109), AUG_TICKS_B,
          left_cfg([-0.6, 0.4], PRES_TICKS, -0.5),
          dict(range=[0.004, -0.006], vals=GWL_TICKS,
               text=[fmt(v) if v > -0.005 else '' for v in GWL_TICKS]),
          B_PRES, B_GWL, False, 2.5, False)
add_panel(3, (460, 2986, 2436, 3324), OCT_TICKS,
          left_cfg([-3500, 1000], GRAV_C_TICKS, -1500),
          dict(range=[-0.1, 0.3], vals=TEMP_C_TICKS, text=[fmt(v) for v in TEMP_C_TICKS]),
          C_GRAV, C_TEMP, True, 3, True)
add_panel(4, (481, 2967, 3638, 4504), OCT_TICKS,
          left_cfg([-0.6, 0.4], PRES_TICKS, -0.5),
          dict(range=[0.004, -0.006], vals=GWL_TICKS,
               text=[fmt(v) if v > -0.005 else '' for v in GWL_TICKS]),
          D_PRES, D_GWL, False, 2.5, False)


def side_title(text, x, y, color):
    fig.add_annotation(text=text, x=px(x), y=py(y), xref='paper', yref='paper',
                       xanchor='center', yanchor='middle', textangle=-90, showarrow=False,
                       font=dict(size=TITLE_SIZE, color=color, family=FONT))


side_title('gravitational acceleration', 60, 483, BLUE)
side_title('(nm/s<sup>2</sup>)', 166, 483, BLUE)
side_title('river temperature (°C)', 3240, 483, ORANGE)
side_title('atmospheric pressure (mb)', 270, 1676, BLUE)
side_title('groundwater level (m)', 3286, 1676, ORANGE)
side_title('gravitational acceleration', 60, 2880, BLUE)
side_title('(nm/s<sup>2</sup>)', 166, 2880, BLUE)
side_title('river temperature (°C)', 3248, 2880, ORANGE)
side_title('atmospheric pressure (mb)', 270, 4071, BLUE)
side_title('groundwater level (m)', 3278, 4071, ORANGE)

for letter, yc in zip(['a', 'b', 'c', 'd'], [1100, 2284, 3487, 4664]):
    fig.add_annotation(text=letter, x=px(1662), y=py(yc), xref='paper', yref='paper',
                       xanchor='center', yanchor='middle', showarrow=False,
                       font=dict(size=100, color='black', family=FONT))

# double-headed arrows linking the gravity and temperature peaks
fig.add_annotation(x=8.498, y=-1233, ax=8.387, ay=342, xref='x', yref='y', axref='x', ayref='y',
                   text='', showarrow=True, arrowside='end+start', arrowhead=2, startarrowhead=2,
                   arrowsize=2.2, startarrowsize=2.2, arrowwidth=3, arrowcolor='black')
fig.add_annotation(x=7.46, y=-1863, ax=7.29, ay=-774, xref='x3', yref='y5', axref='x3', ayref='y5',
                   text='', showarrow=True, arrowside='end+start', arrowhead=2, startarrowhead=2,
                   arrowsize=2.2, startarrowsize=2.2, arrowwidth=3, arrowcolor='black')

# layout is in paper fractions, so let the figure fill the window it is opened in
fig.update_layout(autosize=True, margin=dict(l=0, r=0, t=0, b=0, pad=0),
                  paper_bgcolor='white', plot_bgcolor='white', showlegend=False,
                  font=dict(family=FONT, color=INK))

# drop the page margin, and if the window is shorter than the 4742 px canvas shrink the fonts a bit
fit_js = r"""
var gd = document.getElementById('{plot_id}');
document.body.style.margin = '0';
document.documentElement.style.overflow = 'hidden';
var s = Math.min(1, window.innerHeight / 4742);
var g = (1 + s) / 2;
var upd = {};
if (s < 1) {
  Object.keys(gd.layout).forEach(function (k) {
    if (/^[xy]axis\d*$/.test(k) && gd.layout[k].tickfont && gd.layout[k].tickfont.size) {
      upd[k + '.tickfont.size'] = gd.layout[k].tickfont.size * g;
    }
  });
  (gd.layout.annotations || []).forEach(function (a, i) {
    if (a.font && a.font.size) {
      upd['annotations[' + i + '].font.size'] = a.font.size * (a.textangle == -90 ? s : g);
    }
  });
}
Plotly.relayout(gd, upd).then(function () { Plotly.Plots.resize(gd); });
"""

fig.write_html("out.html", default_width='100%', default_height='100vh',
               config={'displayModeBar': False}, post_script=fit_js)
